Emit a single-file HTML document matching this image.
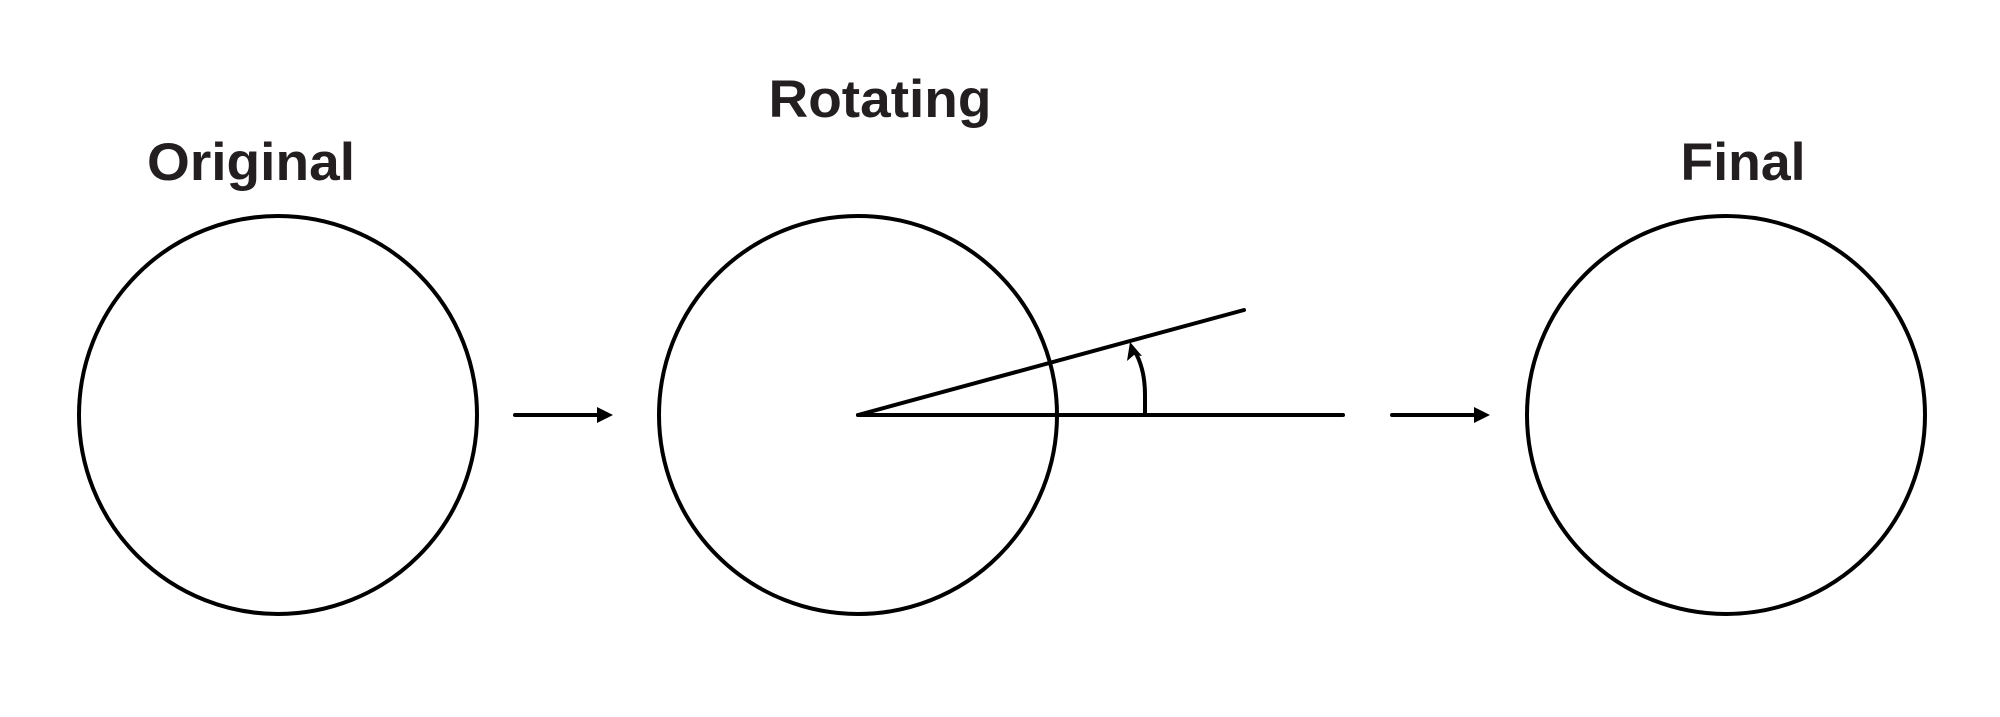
<!DOCTYPE html>
<html><head><meta charset="utf-8"><style>html,body{margin:0;padding:0;background:#fff}svg{display:block}</style></head>
<body>
<svg width="2000" height="717" viewBox="0 0 2000 717" xmlns="http://www.w3.org/2000/svg">
<g font-family="'Liberation Sans Narrow','Liberation Sans',sans-serif" font-weight="bold" font-size="53" fill="#231f20" text-anchor="middle">
<text x="251" y="180" textLength="208" lengthAdjust="spacingAndGlyphs">Original</text>
<text x="880" y="117" textLength="223" lengthAdjust="spacingAndGlyphs">Rotating</text>
<text x="1743" y="180" textLength="125" lengthAdjust="spacingAndGlyphs">Final</text>
</g>
<g fill="none" stroke="#000" stroke-width="4" stroke-linecap="round">
<circle cx="278" cy="415" r="199"/>
<circle cx="858" cy="415" r="199"/>
<circle cx="1726" cy="415" r="199"/>
<line x1="515" y1="415" x2="600" y2="415"/>
<line x1="1392" y1="415" x2="1477" y2="415"/>
<line x1="858" y1="415" x2="1343" y2="415"/>
<line x1="858" y1="415" x2="1244" y2="310"/>
<path d="M1145 415 L1145 395 Q1145 368 1134 350" stroke-linecap="butt"/>
</g>
<g fill="#000">
<polygon points="613,415 597,407 597,423"/>
<polygon points="1490,415 1474,407 1474,423"/>
<polygon points="1130,342 1127,361 1134,355 1142,356"/>
</g>
</svg>
</body></html>
